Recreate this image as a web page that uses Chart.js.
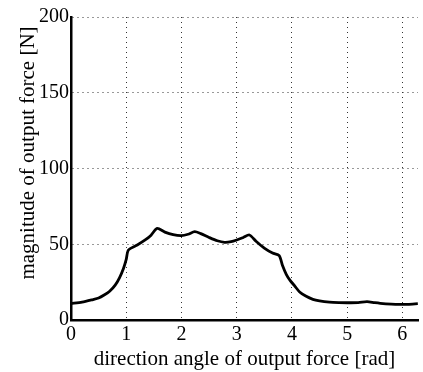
<!DOCTYPE html>
<html>
<head>
<meta charset="utf-8">
<script src="https://cdn.jsdelivr.net/npm/chart.js@4"></script>
<style>
  html, body { margin: 0; padding: 0; background: #fff; }
  #wrap { width: 423px; height: 372px; }
</style>
</head>
<body>
<div id="wrap"><canvas id="forceChart" width="423" height="372"></canvas></div>
<script>
// direction angle [rad] and force magnitude [N]
const angles = [0, 0.2, 0.4, 0.5, 0.6, 0.7, 0.8, 0.88, 0.95, 1.0, 1.04, 1.2, 1.35, 1.45, 1.56,
  1.7, 1.85, 2.0, 2.12, 2.24, 2.35, 2.5, 2.65, 2.78, 2.9, 3.0, 3.12, 3.23, 3.35, 3.5, 3.65,
  3.77, 3.83, 3.9, 3.97, 4.05, 4.14, 4.25, 4.38, 4.5, 4.68, 4.85, 5.0, 5.2, 5.36, 5.5, 5.6,
  5.8, 5.95, 6.1, 6.28];
const magnitudes = [11, 11.8, 13.5, 14.5, 16.5, 19, 23, 28, 34, 40, 46.2, 49.5, 53, 56, 60.5,
  58, 56.3, 55.7, 56.6, 58.3, 57, 54.5, 52.3, 51.3, 51.7, 52.8, 54.5, 56.1, 52, 47.5, 44.2,
  42.5, 36, 30, 26, 22.5, 18.5, 15.8, 13.6, 12.6, 11.8, 11.5, 11.4, 11.5, 12.1, 11.4, 11,
  10.5, 10.3, 10.3, 10.8];
const yTicks = [0, 50, 100, 150, 200];

const serif = "'Liberation Serif', 'Times New Roman', serif";
const points = angles.map((a, i) => ({ x: a, y: magnitudes[i] }));

const grid = { color: '#333', lineWidth: 1, drawTicks: false };
// v4: border.dash styles the grid lines, the axis line itself stays solid
const border = { display: true, color: '#000', width: 2.5, dash: [1, 4] };

// rotated y-axis caption, sitting a little above the plot centre
const yCaption = {
  id: 'yCaption',
  afterDraw(chart) {
    const ctx = chart.ctx;
    ctx.save();
    ctx.font = '21px ' + serif;
    ctx.fillStyle = '#000';
    ctx.textAlign = 'center';
    ctx.textBaseline = 'middle';
    ctx.translate(28, 153);
    ctx.rotate(-Math.PI / 2);
    ctx.fillText('magnitude of output force [N]', 0, 0);
    ctx.restore();
  }
};

new Chart(document.getElementById('forceChart'), {
  type: 'line',
  data: {
    datasets: [{
      data: points,
      borderColor: '#000',
      borderWidth: 2.8,
      pointRadius: 0,
      tension: 0.25,
      fill: false
    }]
  },
  options: {
    responsive: false,
    animation: false,
    layout: { padding: { top: 17, right: 5, left: 0, bottom: 0 } },
    plugins: { legend: { display: false }, tooltip: { enabled: false } },
    scales: {
      x: {
        type: 'linear',
        min: 0,
        max: 2 * Math.PI,
        afterFit(scale) { scale.height = 52; },
        grid: grid,
        border: border,
        ticks: {
          stepSize: 1,
          includeBounds: false,
          padding: 3,
          color: '#000',
          font: { family: serif, size: 20 }
        },
        title: {
          display: true,
          text: 'direction angle of output force [rad]',
          color: '#000',
          padding: { top: -3, bottom: 0 },
          font: { family: serif, size: 21 }
        }
      },
      y: {
        min: 0,
        max: 200,
        afterFit(scale) { scale.width = 71; },
        afterBuildTicks(scale) { scale.ticks = yTicks.map(v => ({ value: v })); },
        grid: grid,
        border: border,
        ticks: {
          padding: 2,
          color: '#000',
          font: { family: serif, size: 20 }
        }
      }
    }
  },
  plugins: [yCaption]
});
</script>
</body>
</html>
